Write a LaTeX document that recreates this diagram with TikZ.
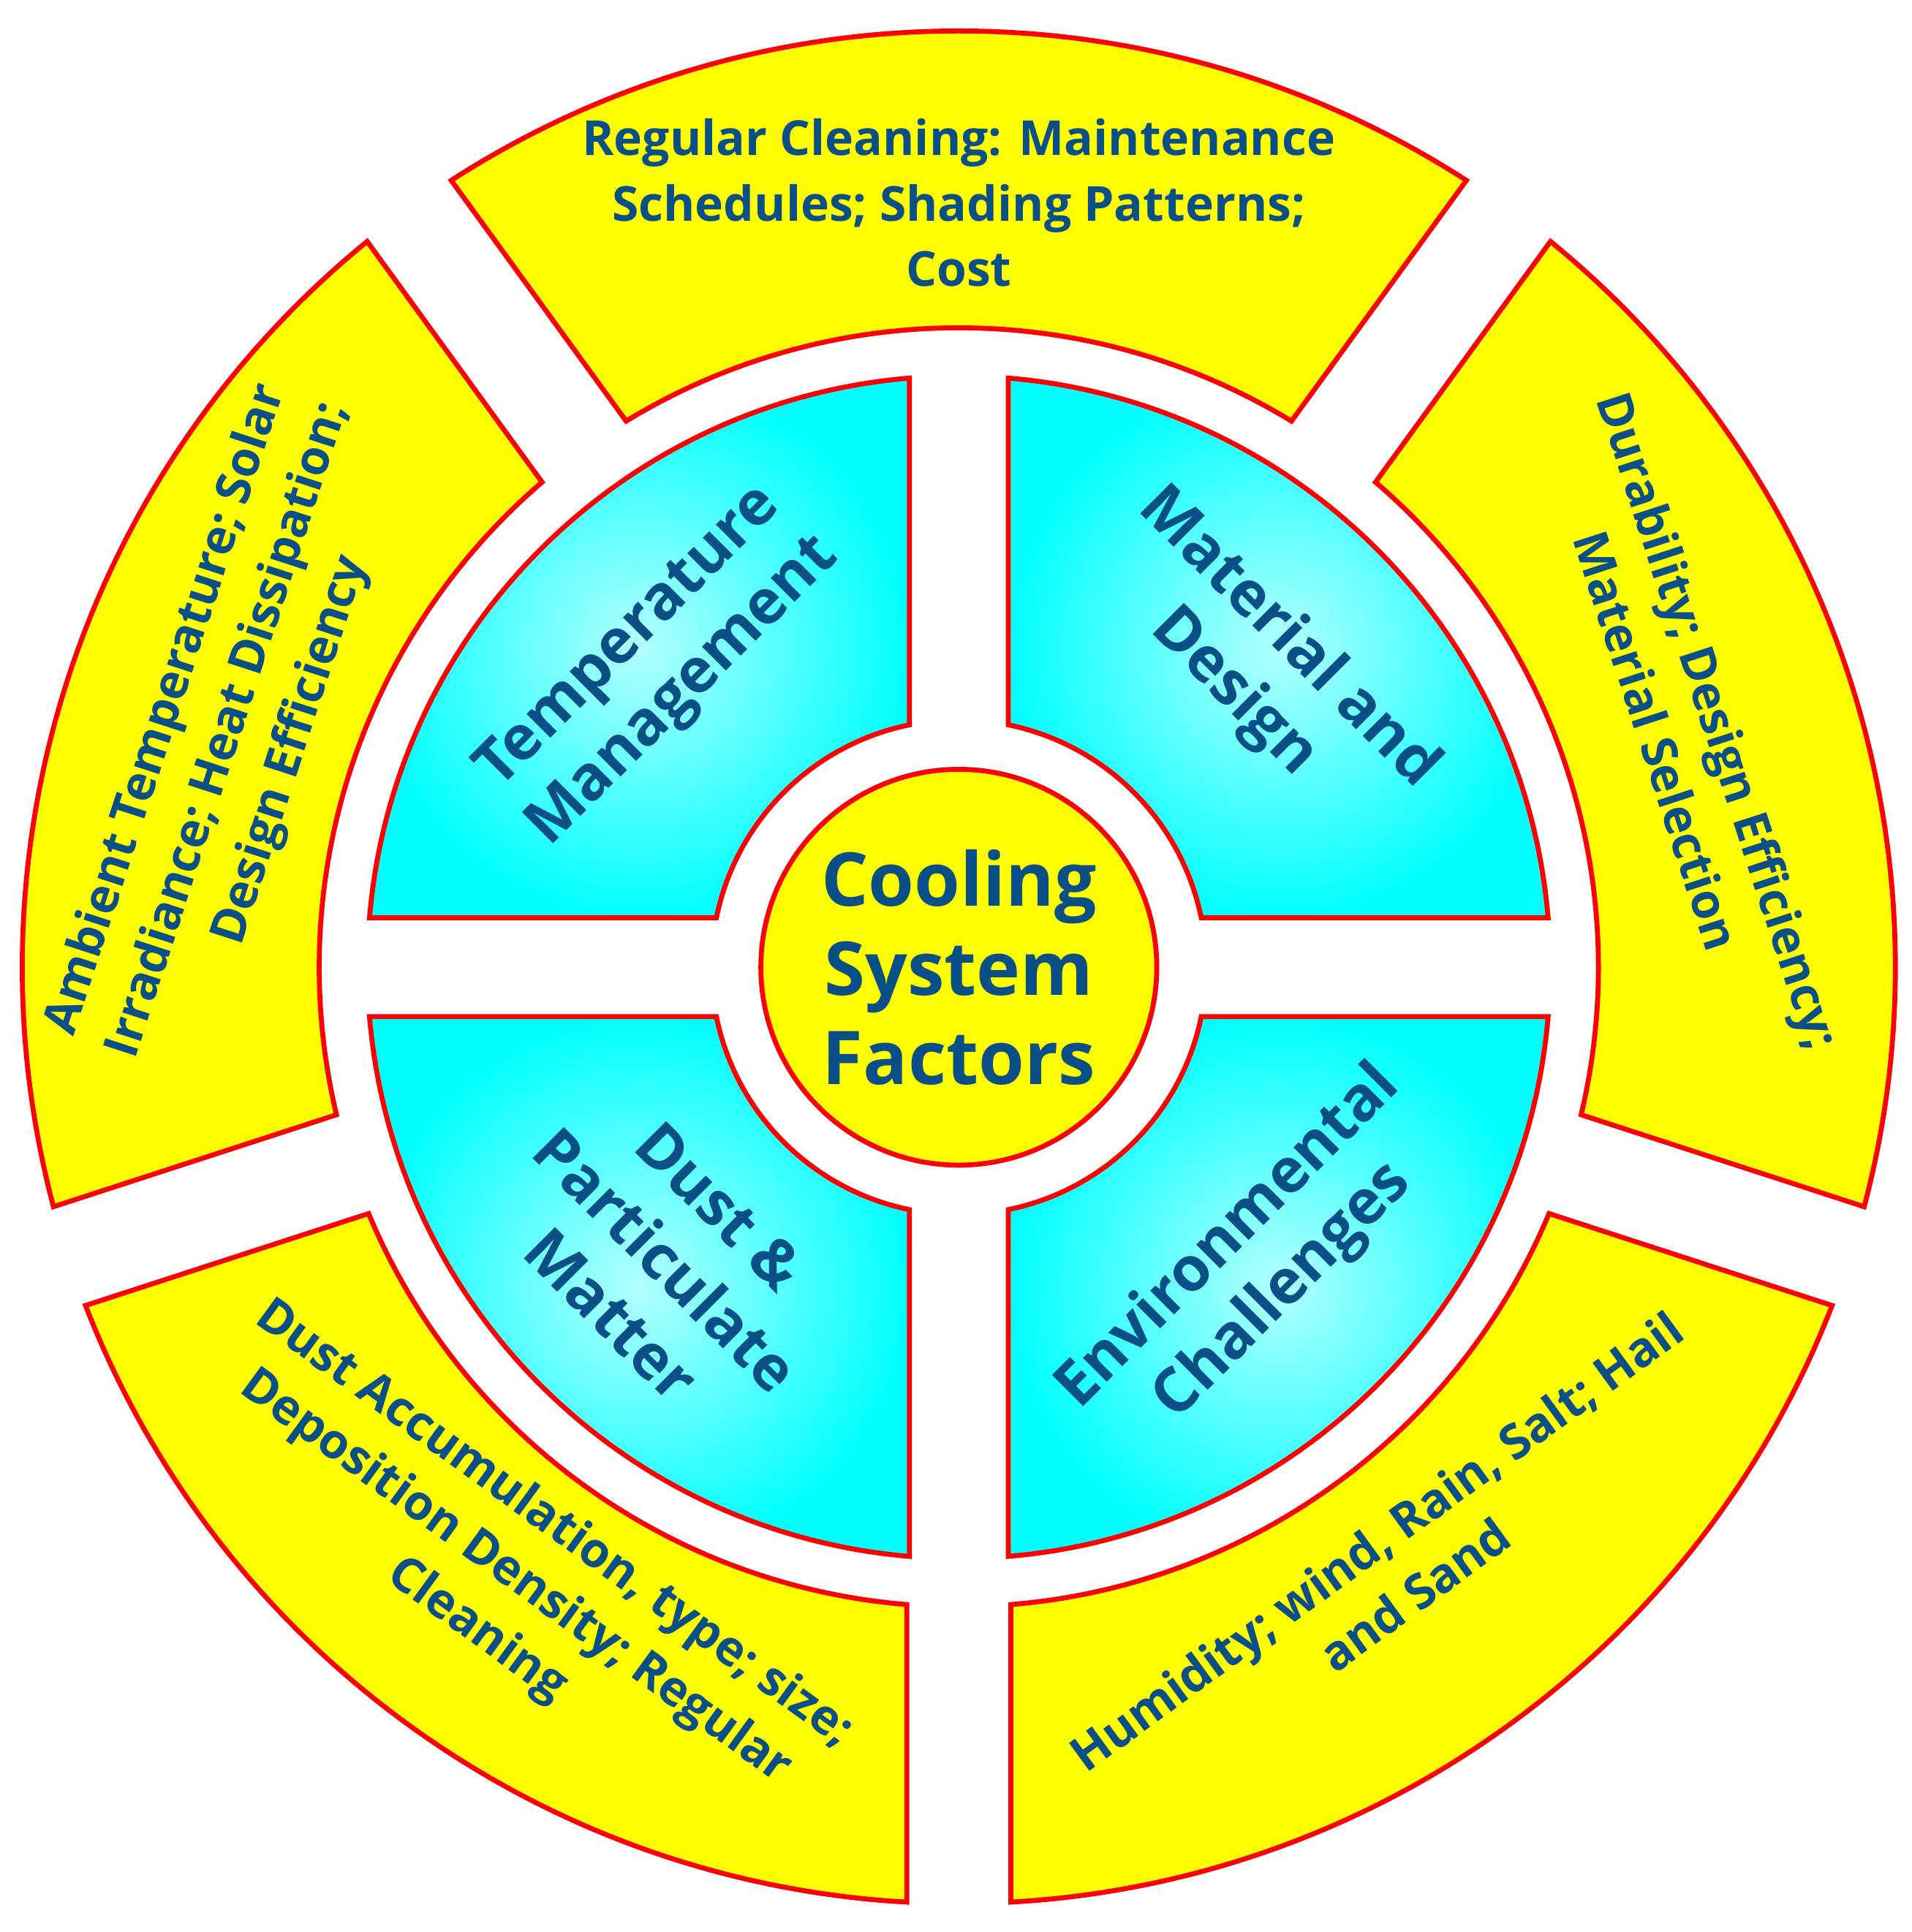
\documentclass[tikz,border=0pt]{standalone}
\usepackage{fontspec}
\setmainfont{Open Sans}
\definecolor{txt}{RGB}{10,80,135}
\definecolor{ylw}{RGB}{255,255,0}
\definecolor{cyn}{RGB}{0,255,255}
\newcommand\mysect[7]{% style, th1, th2, r, R, g
  \path[#1] ({#2+asin(#6/#5)}:#5pt) arc[start angle={#2+asin(#6/#5)}, end angle={#3-asin(#6/#5)}, radius=#5pt]
    -- ({#3-asin(#6/#4)}:#4pt) arc[start angle={#3-asin(#6/#4)}, end angle={#2+asin(#6/#4)}, radius=#4pt] -- cycle;}
\tikzset{
  ring/.style={draw=red, fill=ylw, line width=4pt, line join=miter},
  quad/.style={draw=red, line width=4pt, inner color=cyn!30, outer color=cyn},
  otxt/.style={text=txt, font=\bfseries\fontsize{39}{53}\selectfont, align=center},
  itxt/.style={text=txt, font=\bfseries\fontsize{50}{62}\selectfont, align=center},
}
\begin{document}
\begin{tikzpicture}
\useasboundingbox (-775pt,-780pt) rectangle (770pt,782pt);
% outer ring
\mysect{ring}{54}{126}{517}{757}{42}{}
\mysect{ring}{126}{198}{517}{757}{42}{}
\mysect{ring}{198}{270}{517}{757}{42}{}
\mysect{ring}{270}{342}{517}{757}{42}{}
\mysect{ring}{-18}{54}{517}{757}{42}{}
% inner quadrants
\mysect{quad}{0}{90}{200}{478}{40}{}
\mysect{quad}{90}{180}{200}{478}{40}{}
\mysect{quad}{180}{270}{200}{478}{40}{}
\mysect{quad}{270}{360}{200}{478}{40}{}
% center
\node[circle, draw=red, fill=ylw, line width=4pt, minimum size=320pt, inner sep=0pt,
  text=txt, font=\bfseries\fontsize{60}{72}\selectfont, align=center] (c) at (0,0) {Cooling\\System\\Factors};
% outer texts
\node[otxt] (t1) at (90:618pt) {Regular Cleaning: Maintenance\\Schedules; Shading Patterns;\\Cost};
\node[otxt, rotate=72] (t2) at (162:620pt) {Ambient Temperature; Solar\\Irradiance; Heat Dissipation;\\Design Efficiency};
\node[otxt, rotate=-36] (t3) at (234:610pt) {Dust Accumulation, type; size;\\Deposition Density; Regular\\Cleaning};
\node[otxt, rotate=36] (t4) at (306:600pt) {Humidity; wind, Rain, Salt; Hail\\and Sand};
\node[otxt, rotate=-72] (t5) at (18:620pt) {Durability; Design Efficiency;\\Material Selection};
% inner texts
\node[itxt, rotate=45] (q1) at (135:345pt) {Temperature\\Management};
\node[itxt, rotate=-45] (q2) at (45:345pt) {Material and\\Design};
\node[itxt, rotate=45] (q3) at (-45:340pt) {Environmental\\Challenges};
\node[itxt, rotate=-45] (q4) at (-135:335pt) {Dust \&\\Particulate\\Matter};
\end{tikzpicture}
\end{document}
